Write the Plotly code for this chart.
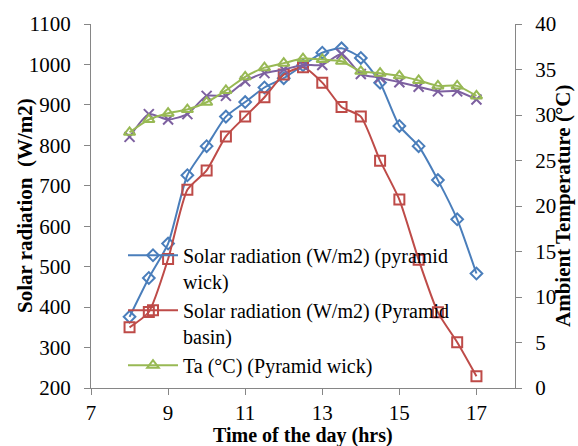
import plotly.graph_objects as go

time_hrs = [8, 8.5, 9, 9.5, 10, 10.5, 11, 11.5, 12, 12.5, 13, 13.5, 14, 14.5, 15, 15.5, 16, 16.5, 17]

solar_wick = [376, 472, 557, 726, 798, 871, 907, 943, 966, 998, 1029, 1040, 1016, 955, 848, 798, 714, 617, 483]
solar_basin = [350, 388, 519, 690, 738, 822, 871, 919, 975, 993, 955, 895, 871, 762, 666, 517, 387, 313, 229]
ta_wick = [28.1, 29.5, 30.2, 30.6, 31.4, 32.7, 34.2, 35.2, 35.7, 36.2, 36.1, 35.9, 34.8, 34.6, 34.3, 33.8, 33.2, 33.2, 32.1]
ta_basin = [27.6, 30.1, 29.5, 30.1, 32.1, 32.1, 33.7, 34.6, 35.0, 35.5, 35.5, 36.7, 34.5, 34.1, 33.6, 33.1, 32.6, 32.6, 31.7]

x_ticks = [7, 9, 11, 13, 15, 17]

FONT = "Liberation Serif"
BLUE = "#4A7EBB"
RED = "#BE4B48"
GREEN = "#98B954"
PURPLE = "#7D60A0"
AXIS = "#868686"

fig = go.Figure()

fig.add_trace(go.Scatter(
    x=time_hrs, y=ta_basin, mode="lines+markers", name="Ta (°C) (Pyramid basin)",
    yaxis="y2", showlegend=False,
    line=dict(color=PURPLE, width=2, shape="spline", smoothing=0.6),
    marker=dict(symbol="x-thin-open", size=10, line=dict(color=PURPLE, width=2), color=PURPLE)))

fig.add_trace(go.Scatter(
    x=time_hrs, y=solar_wick, mode="lines+markers",
    name="Solar radiation (W/m2) (pyramid<br>wick)",
    line=dict(color=BLUE, width=2, shape="spline", smoothing=0.6),
    marker=dict(symbol="diamond-open", size=9, line=dict(color=BLUE, width=2), color=BLUE)))

fig.add_trace(go.Scatter(
    x=time_hrs, y=solar_basin, mode="lines+markers",
    name="Solar radiation (W/m2) (Pyramid<br>basin)",
    line=dict(color=RED, width=2, shape="spline", smoothing=0.6),
    marker=dict(symbol="square-open", size=10, line=dict(color=RED, width=2), color=RED)))

fig.add_trace(go.Scatter(
    x=time_hrs, y=ta_wick, mode="lines+markers", name="Ta (°C) (Pyramid wick)",
    yaxis="y2",
    line=dict(color=GREEN, width=2, shape="spline", smoothing=0.6),
    marker=dict(symbol="triangle-up-open", size=10, line=dict(color=GREEN, width=2), color=GREEN)))

axis_common = dict(
    showgrid=False, zeroline=False, showline=True, linecolor=AXIS, linewidth=1.3,
    ticks="outside", ticklen=6, tickcolor=AXIS, tickwidth=1.3,
    tickfont=dict(family=FONT, size=21, color="black"),
)

fig.update_layout(
    width=578, height=446,
    margin=dict(l=91, r=63, t=15, b=58),
    paper_bgcolor="white", plot_bgcolor="white",
    font=dict(family=FONT, size=21, color="black"),
    xaxis=dict(range=[7, 18], tickvals=x_ticks, **axis_common),
    yaxis=dict(range=[200, 1100], dtick=100, tick0=200, ticklabelstandoff=9, **axis_common),
    yaxis2=dict(range=[0, 40], dtick=5, tick0=0, overlaying="y", side="right",
                ticklabelstandoff=9, **axis_common),
    showlegend=True,
    legend=dict(
        x=(123 - 91) / 424, y=(388 - 232) / 373, xanchor="left", yanchor="top",
        bgcolor="rgba(0,0,0,0)", borderwidth=0,
        font=dict(family=FONT, size=20, color="black"),
        valign="top", tracegroupgap=0, itemwidth=50,
    ),
    annotations=[
        dict(text="<b>Solar radiation  (W/m2)</b>", xref="paper", yref="paper",
             x=(25 - 91) / 424, y=0.5, textangle=-90, showarrow=False,
             xanchor="center", yanchor="middle", font=dict(family=FONT, size=21)),
        dict(text="<b>Ambient Temperature (°C)</b>", xref="paper", yref="paper",
             x=(563 - 91) / 424, y=0.5, textangle=-90, showarrow=False,
             xanchor="center", yanchor="middle", font=dict(family=FONT, size=21)),
        dict(text="<b>Time of the day (hrs)</b>", xref="paper", yref="paper",
             x=(303 - 91) / 424, y=(388 - 437) / 373, showarrow=False,
             xanchor="center", yanchor="middle", font=dict(family=FONT, size=20)),
    ],
)

fig.write_html("out.html")
